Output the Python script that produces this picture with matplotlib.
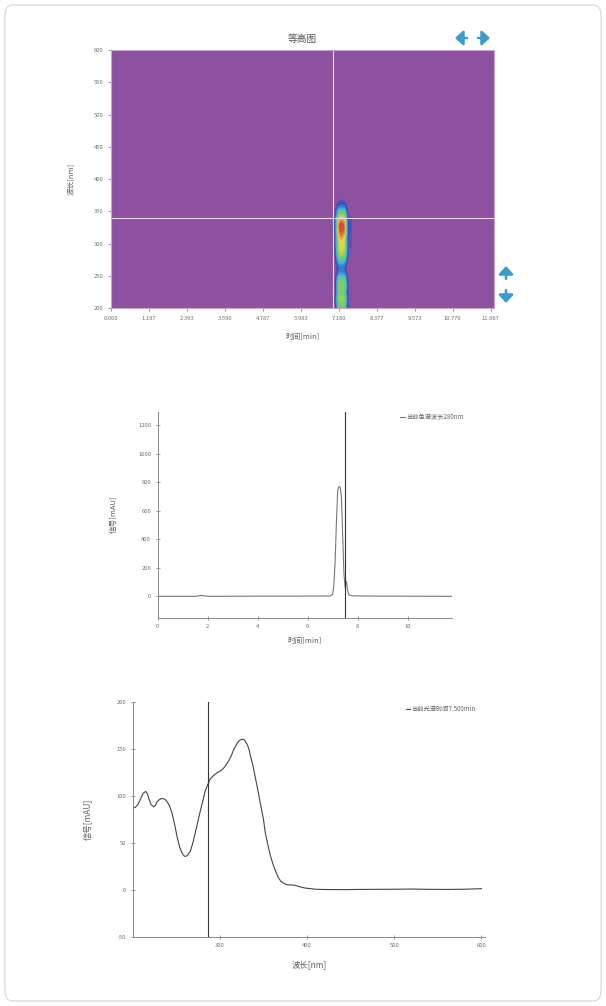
import matplotlib
matplotlib.use("Agg")
import matplotlib.pyplot as plt
import numpy as np
from matplotlib.colors import LinearSegmentedColormap
from matplotlib.patches import FancyBboxPatch

plt.rcParams["font.family"] = ["Noto Sans CJK SC", "DejaVu Sans"]
plt.rcParams["axes.unicode_minus"] = False

# chromatogram at the selected wavelength
chrom_time = [0.0, 1.5, 1.75, 2.0, 6.9, 7.0, 7.05, 7.1, 7.15, 7.2, 7.25, 7.3, 7.35,
              7.4, 7.45, 7.5, 7.55, 7.6, 7.65, 7.8, 9.0, 11.76]
chrom_signal = [0, 0, 6, 0, 2, 15, 80, 250, 520, 740, 770, 765, 700,
                430, 160, 60, 105, 40, 10, 3, 1, 0]

# UV spectrum at the selected time
wavelength = [200, 203, 206, 209, 212, 215, 217, 219, 221, 224, 226, 228, 231, 234,
              237, 239, 242, 245, 248, 251, 254, 257, 259, 261, 263, 266, 269, 272,
              275, 278, 281, 283, 286, 289, 293, 297, 301, 304, 307, 310, 313, 316,
              319, 322, 324, 326, 328, 331, 333, 335, 338, 341, 344, 347, 350, 352,
              355, 358, 361, 364, 367, 370, 374, 377, 381, 385, 389, 393, 397, 402,
              410, 420, 440, 460, 480, 500, 520, 540, 560, 580, 600]
spectrum = [87, 88, 91, 97, 103, 105, 102, 96, 91, 88.5, 90, 94, 96.5, 97.5,
            96.5, 94.5, 90, 82, 70, 56, 45, 38.5, 36, 35.7, 37, 41, 50, 62,
            74, 86, 97, 105, 112, 118.5, 122, 125, 127, 129.5, 133, 137.5, 143, 150,
            155, 159, 160, 160.7, 160, 155.5, 151, 143, 132, 118, 104, 89, 75, 61,
            48, 36, 27, 19.5, 13, 8.9, 6.5, 5.4, 5.2, 5, 4, 2.9, 2, 1.4,
            0.6, 0.3, 0.2, 0.4, 0.5, 0.6, 0.8, 0.5, 0.4, 0.6, 1.2]

contour_ticks = [0.000, 1.197, 2.393, 3.590, 4.787, 5.983, 7.180, 8.377, 9.573, 10.770, 11.967]
cross_time, cross_wl = 7.0, 340
chrom_wl_label = "当前色谱波长280nm"
spec_time, spec_label = 7.5, "当前光谱时间7.500min"
spec_marker_wl = 286

tick_color = "#6f6f6f"
label_color = "#606060"
tick_size = 4.2

fig = plt.figure(figsize=(6.06, 10.06), dpi=100)
fig.patches.append(FancyBboxPatch((0.008, 0.005), 0.984, 0.99, boxstyle="round,pad=0,rounding_size=0.012",
                                  transform=fig.transFigure, fc="white", ec="#dddddd", lw=1.0, zorder=-10))

# ---- contour map ----
ax1 = fig.add_axes([0.1832, 0.6938, 0.632, 0.2565])
t_grid = np.linspace(0, 12.07, 1400)
wl_grid = np.linspace(200, 600, 400)
chrom_i = np.interp(t_grid, chrom_time, chrom_signal)
spec_i = np.interp(wl_grid, wavelength, spectrum) / max(spectrum)
Z = np.outer(spec_i, chrom_i)
cmap = LinearSegmentedColormap.from_list(
    "pda", [(0.0, "#8d51a0"), (0.06, "#8d51a0"), (0.15, "#2f4fc2"), (0.35, "#3fb9d6"),
            (0.6, "#7fd15a"), (0.8, "#e6d64a"), (1.0, "#d8402a")])
ax1.contourf(t_grid, wl_grid, Z, levels=np.linspace(0, Z.max(), 24), cmap=cmap)
ax1.set_facecolor("#8d51a0")
ax1.axvline(cross_time, color="#eed6f2", lw=0.8)
ax1.axhline(cross_wl, color="#eed6f2", lw=0.8)
ax1.set_xlim(0, 12.07)
ax1.set_ylim(200, 600)
ax1.set_xticks(contour_ticks)
ax1.set_xticklabels([f"{v:.3f}" for v in contour_ticks])
ax1.set_yticks(range(200, 601, 50))
for s in ax1.spines.values():
    s.set_color("#c9a3d3")
    s.set_linewidth(0.8)
ax1.tick_params(labelsize=tick_size, colors=tick_color, length=2, width=0.5)
ax1.set_title("等高图", fontsize=7, color="#555555", pad=6)
ax1.set_xlabel("时间[min]", fontsize=5.5, color=label_color)
ax1.set_ylabel("波长[nm]", fontsize=5.5, color=label_color)
ax1.xaxis.set_label_coords(0.5, -0.095)
ax1.yaxis.set_label_coords(-0.095, 0.5)

# scroll arrows (figure pixels, y measured from the top)
arrow_style = "-|>,head_length=0.6,head_width=0.55"
for (x0, y0, x1, y1) in [(467, 38, 455, 38), (478, 38, 490, 38),
                         (506, 279, 506, 266), (506, 290, 506, 303)]:
    ax1.annotate("", xy=(x1, 1006 - y1), xytext=(x0, 1006 - y0),
                 xycoords="figure pixels", textcoords="figure pixels",
                 arrowprops=dict(arrowstyle=arrow_style, color="#3a9ccb", lw=1.8,
                                 mutation_scale=8, shrinkA=0, shrinkB=0),
                 annotation_clip=False)

# ---- chromatogram ----
ax2 = fig.add_axes([0.2602, 0.386, 0.4851, 0.2048])
ax2.plot(chrom_time, chrom_signal, color="#777777", lw=0.8, label=chrom_wl_label)
ax2.axvline(spec_time, color="#333333", lw=0.8)
ax2.set_xlim(0, 11.76)
ax2.set_ylim(-150, 1295)
ax2.set_xticks(range(0, 11, 2))
ax2.set_yticks(range(0, 1201, 200))
for name in ("top", "right"):
    ax2.spines[name].set_visible(False)
for name in ("left", "bottom"):
    ax2.spines[name].set_color("#888888")
    ax2.spines[name].set_linewidth(0.7)
ax2.tick_params(labelsize=tick_size, colors=tick_color, length=2.5, width=0.5, direction="inout")
ax2.set_xlabel("时间[min]", fontsize=5.5, color=label_color)
ax2.set_ylabel("信号[mAU]", fontsize=5.5, color=label_color)
ax2.xaxis.set_label_coords(0.5, -0.094)
ax2.yaxis.set_label_coords(-0.135, 0.5)
ax2.legend(loc="center left", bbox_to_anchor=(400 / 606, 1 - 417 / 1006), bbox_transform=fig.transFigure,
           frameon=False, fontsize=4.5, handlelength=0.8, handletextpad=0.2, labelcolor="#666666",
           borderpad=0, borderaxespad=0)

# ---- spectrum ----
ax3 = fig.add_axes([0.219, 0.0689, 0.5813, 0.233])
ax3.plot(wavelength, spectrum, color="#444444", lw=0.8, label=spec_label)
ax3.axvline(spec_marker_wl, color="#333333", lw=0.8)
ax3.set_xlim(200, 604)
ax3.set_ylim(-50, 200)
ax3.set_xticks([300, 400, 500, 600])
ax3.set_yticks(range(-50, 201, 50))
for name in ("top", "right"):
    ax3.spines[name].set_visible(False)
for name in ("left", "bottom"):
    ax3.spines[name].set_color("#888888")
    ax3.spines[name].set_linewidth(0.7)
ax3.tick_params(labelsize=tick_size, colors=tick_color, length=2.5, width=0.5, direction="inout")
ax3.set_xlabel("波长[nm]", fontsize=6, color=label_color)
ax3.set_ylabel("信号[mAU]", fontsize=6, color=label_color)
ax3.xaxis.set_label_coords(0.5, -0.1)
ax3.yaxis.set_label_coords(-0.113, 0.5)
ax3.legend(loc="center left", bbox_to_anchor=(406 / 606, 1 - 709 / 1006), bbox_transform=fig.transFigure,
           frameon=False, fontsize=4.5, handlelength=0.6, handletextpad=0.2, labelcolor="#666666",
           borderpad=0, borderaxespad=0)

fig.savefig("out.png", dpi=100, facecolor="white")
